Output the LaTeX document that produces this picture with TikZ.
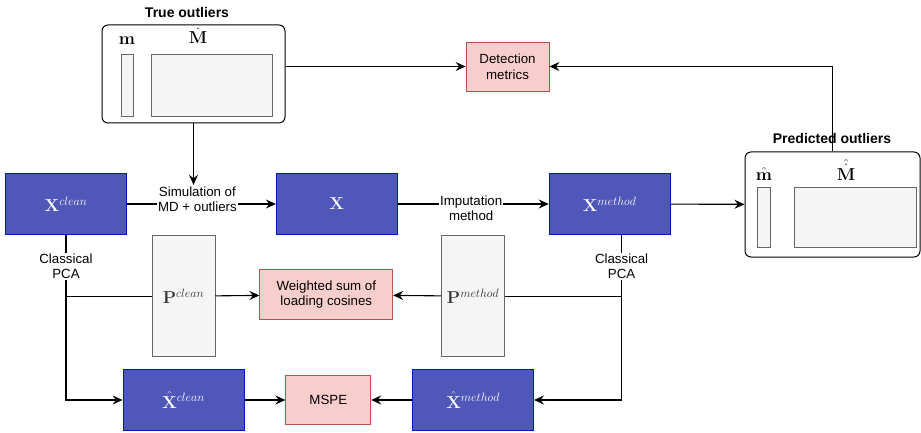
\documentclass[tikz,border=0pt]{standalone}
\usepackage{amsmath}
\usepackage{amssymb}
\usepackage[no-math]{fontspec}
\setmainfont{Liberation Sans}
\usepackage{tikz}
\usetikzlibrary{arrows.meta,positioning}
\definecolor{blkfill}{HTML}{4F57B9}
\definecolor{blkline}{HTML}{001DBC}
\definecolor{pinkfill}{HTML}{F8CECC}
\definecolor{pinkline}{HTML}{B85450}
\definecolor{grayfill}{HTML}{F5F5F5}
\definecolor{grayline}{HTML}{666666}
\tikzstyle{flow} = [line width=1.1pt,-{Stealth[length=10pt,width=9pt,inset=3.5pt]}]
\tikzstyle{wire} = [line width=1.1pt]

\begin{document}
\begin{tikzpicture}[x=1pt, y=-1pt,
    every node/.style={font=\fontsize{13.3}{15.5}\selectfont},
    blk/.style={draw=blkline, fill=blkfill, text=white, line width=0.8pt, inner sep=0pt,
        minimum width=121pt, minimum height=61pt, font=\fontsize{17}{20}\selectfont},
    metric/.style={draw=pinkline, fill=pinkfill, line width=0.8pt, align=center, inner sep=0pt},
    loadbox/.style={draw=grayline, fill=grayfill, text=black!80, line width=0.8pt, inner sep=0pt,
        minimum width=63pt, minimum height=121pt, font=\fontsize{17}{20}\selectfont},
    outbox/.style={draw, rounded corners=6pt, line width=1pt, inner sep=0pt},
    vecbox/.style={draw=grayline, fill=grayfill, line width=0.8pt, inner sep=0pt},
    mlabel/.style={font=\fontsize{16}{19}\selectfont, inner sep=0pt},
    title/.style={font=\bfseries\fontsize{14}{16}\selectfont},
    lbl/.style={fill=white, inner sep=1pt, align=center}]
    \useasboundingbox (0,0) rectangle (921,433);

    % true outliers
    \node[outbox, minimum width=183pt, minimum height=98pt] (trueout) at (193.5,74) {};
    \node[title] (truetitle) at (187,12) {True outliers};
    \node[vecbox, minimum width=12pt, minimum height=62pt] (mtrue) at (127,85) {};
    \node[vecbox, minimum width=121pt, minimum height=62pt] (Mtrue) at (211.5,85) {};
    \node[mlabel] (mtruelbl) at (127,41) {$\mathbf{m}$};
    \node[mlabel] (Mtruelbl) at (198,36) {$\dot{\mathbf{M}}$};

    \node[metric, minimum width=83pt, minimum height=49pt] (detect) at (507.5,66.5) {Detection\\metrics};

    % main row
    \node[blk] (xclean) at (66,204) {$\mathbf{X}^{clean}$};
    \node[blk, right=149pt of xclean] (xsim) {$\mathbf{X}$};
    \node[blk, right=151pt of xsim] (xmeth) {$\mathbf{X}^{method}$};

    % predicted outliers
    \node[outbox, minimum width=175pt, minimum height=105pt] (predout) at (832.5,204.5) {};
    \node[title] (predtitle) at (832,138) {Predicted outliers};
    \node[vecbox, minimum width=13pt, minimum height=60pt] (mpred) at (764,217) {};
    \node[vecbox, minimum width=122pt, minimum height=60pt] (Mpred) at (855,217) {};
    \node[mlabel] (mpredlbl) at (764,174) {$\hat{\mathbf{m}}$};
    \node[mlabel] (Mpredlbl) at (846,170) {$\hat{\dot{\mathbf{M}}}$};

    % bottom row
    \node[blk] (xhatclean) at (183.5,400) {$\hat{\mathbf{X}}^{clean}$};
    \node[metric, minimum width=85pt, minimum height=49pt, right=41pt of xhatclean] (mspe) {MSPE};
    \node[blk, right=41pt of mspe] (xhatmeth) {$\hat{\mathbf{X}}^{method}$};

    % loadings
    \node[loadbox, above=12pt of xhatclean] (pclean) {$\mathbf{P}^{clean}$};
    \node[loadbox, above=12pt of xhatmeth] (pmeth) {$\mathbf{P}^{method}$};
    \node[metric, minimum width=133pt, minimum height=50pt, above=55pt of mspe, xshift=-2pt] (wsum) {Weighted sum of\\loading cosines};

    % connectors
    \draw[flow] (trueout.east |- detect) -- (detect);
    \draw[flow] (predout.north) |- (detect);
    \draw[flow] (xclean) -- node[lbl, yshift=5pt, xshift=-4pt] (simlbl) {Simulation of\\MD + outliers} (xsim);
    \draw[flow] (trueout.south) -- (trueout.south |- simlbl.north);
    \draw[flow] (xsim) -- node[lbl, yshift=-4pt, xshift=-2pt] (implbl) {Imputation\\method} (xmeth);
    \draw[flow] (xmeth) -- (predout);

    \coordinate (lcorner) at (xclean.south |- xhatclean);
    \coordinate (lbranch) at (xclean.south |- pclean);
    \draw[flow] (xclean.south) -- node[lbl, pos=0.19] (lpca) {Classical\\PCA} (lcorner) -- (xhatclean);
    \draw[wire] (lbranch) -- (pclean);
    \draw[flow] (pclean) -- (wsum);

    \coordinate (rtop) at ([xshift=12pt]xmeth.south);
    \coordinate (rcorner) at (rtop |- xhatmeth);
    \coordinate (rbranch) at (rtop |- pmeth);
    \draw[flow] (rtop) -- node[lbl, pos=0.19] (rpca) {Classical\\PCA} (rcorner) -- (xhatmeth);
    \draw[wire] (rbranch) -- (pmeth);
    \draw[flow] (pmeth) -- (wsum);

    \draw[flow] (xhatclean) -- (mspe);
    \draw[flow] (xhatmeth) -- (mspe);
\end{tikzpicture}
\end{document}
